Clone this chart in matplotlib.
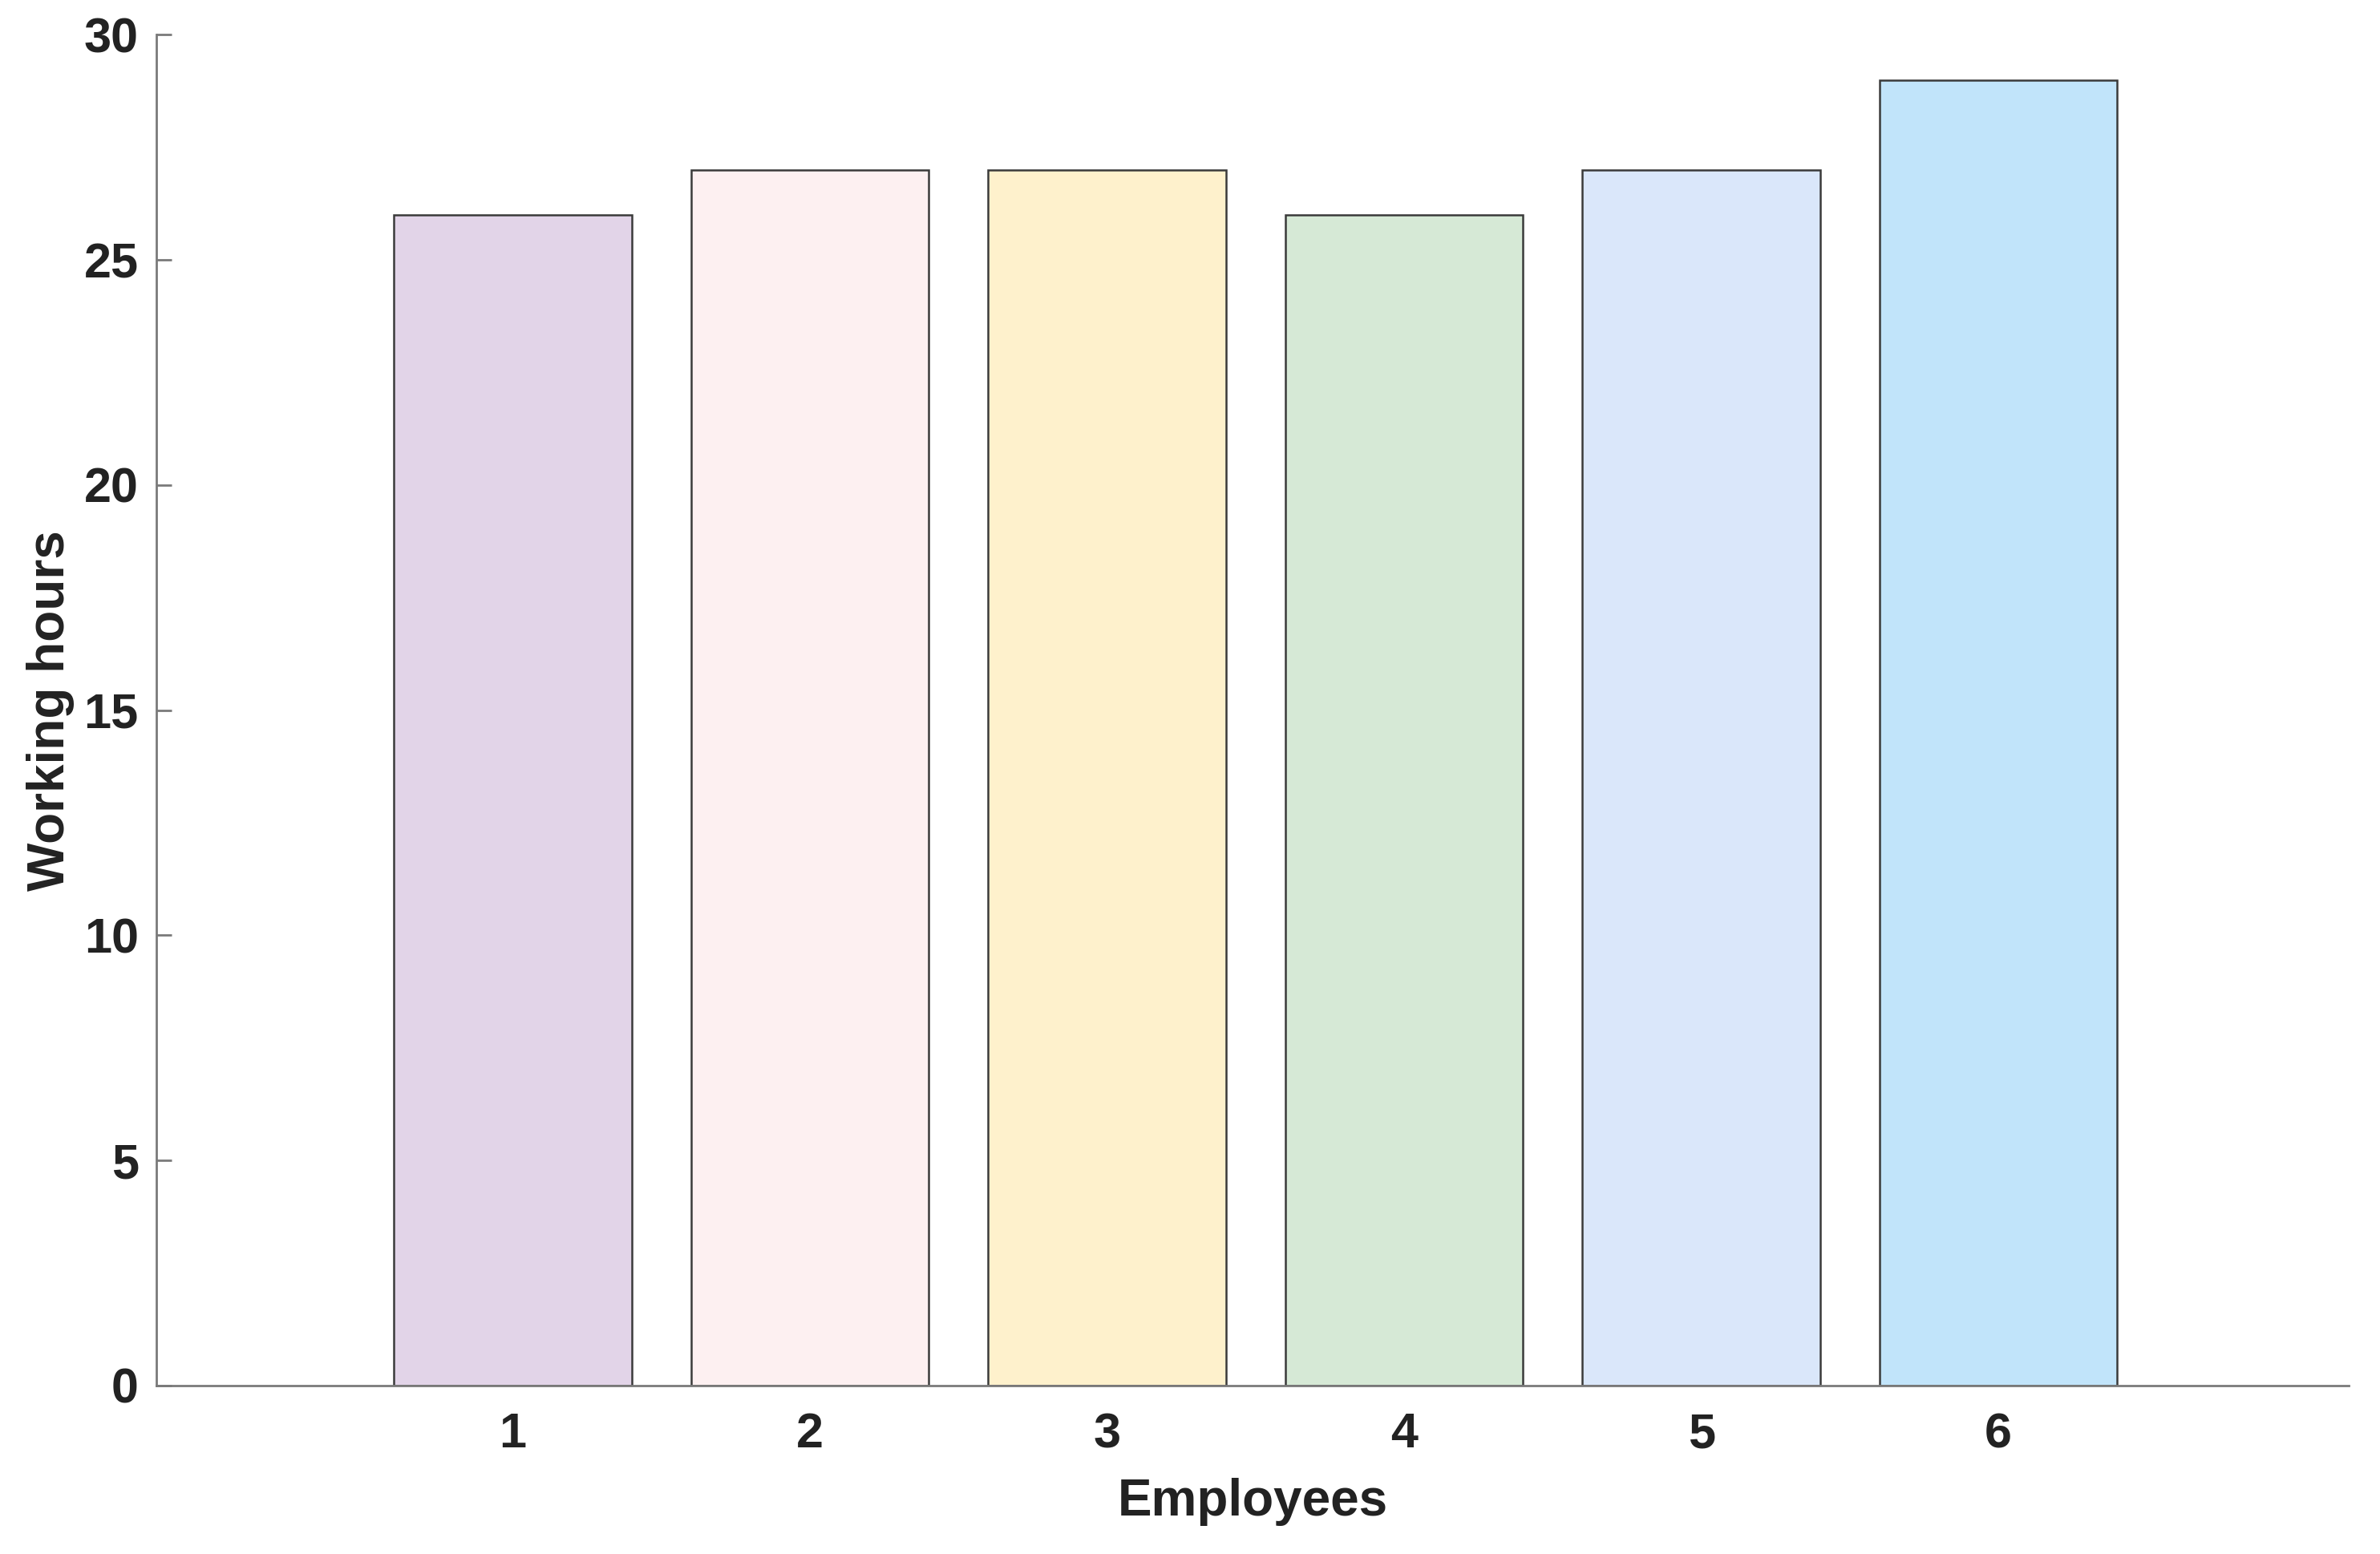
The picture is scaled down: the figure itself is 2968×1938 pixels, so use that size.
import matplotlib
matplotlib.use('Agg')
import matplotlib.pyplot as plt

employees = [1, 2, 3, 4, 5, 6]
hours = [26, 27, 27, 26, 27, 29]
bar_colors = ['#E2D4E8', '#FDF0F1', '#FEF1CC', '#D6E9D6', '#DAE7FA', '#C1E4FA']
y_ticks = [0, 5, 10, 15, 20, 25, 30]

plt.rcParams['font.family'] = ['Liberation Sans', 'DejaVu Sans']

fig = plt.figure(figsize=(14.84, 9.69), dpi=200)
ax = fig.add_axes([0.0657, 0.1084, 0.9213, 0.8692])

ax.bar(employees, hours, width=0.8, color=bar_colors,
       edgecolor='#3a3a3a', linewidth=0.9)

ax.set_xlim(-0.2, 7.18)
ax.set_ylim(0, 30)
ax.set_xticks(employees)
ax.set_yticks(y_ticks)

for s in ['top', 'right']:
    ax.spines[s].set_visible(False)
for s in ['left', 'bottom']:
    ax.spines[s].set_color('#7a7a7a')
    ax.spines[s].set_linewidth(1.0)

ax.tick_params(axis='y', direction='in', length=7, width=1.0, color='#7a7a7a',
               labelsize=22, pad=8)
ax.tick_params(axis='x', length=0, labelsize=22, pad=12)
for lbl in ax.get_xticklabels() + ax.get_yticklabels():
    lbl.set_fontweight('bold')
    lbl.set_color('#222222')

ax.set_xlabel('Employees', fontsize=23, fontweight='bold', color='#222222', labelpad=9)
ax.set_ylabel('Working hours', fontsize=23, fontweight='bold', color='#222222', labelpad=4)

fig.savefig('out.png', dpi=200, facecolor='white')
